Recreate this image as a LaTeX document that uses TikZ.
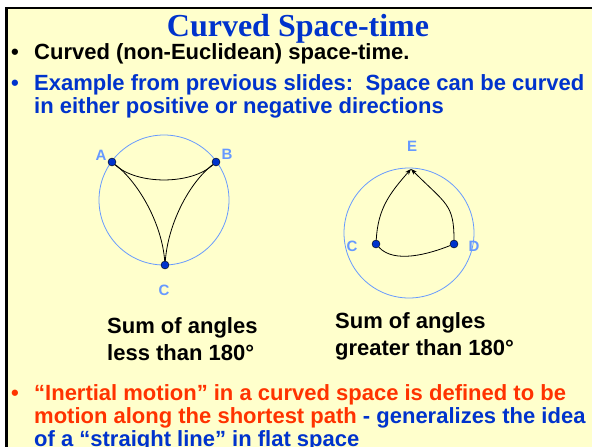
\documentclass[tikz,border=0pt]{standalone}
\usepackage{fontspec}
\setmainfont{Liberation Serif}
\newfontfamily\arialfont{Liberation Sans}
\usetikzlibrary{arrows.meta}
\definecolor{slidebg}{HTML}{FFFFCC}
\definecolor{titleblue}{HTML}{0033CC}
\definecolor{redtxt}{HTML}{FF3300}
\definecolor{ringblue}{HTML}{6699FF}
\definecolor{dotblue}{HTML}{0033CC}
\begin{document}
\begin{tikzpicture}[x=1pt, y=-1pt,
  dot/.style={circle, draw=black, fill=dotblue, inner sep=0pt, minimum size=8pt},
  lbl/.style={font=\arialfont\bfseries\fontsize{15}{17}\selectfont, text=ringblue},
  txt/.style={font=\arialfont\bfseries\fontsize{22}{26}\selectfont, anchor=base west, inner sep=0pt},
  geo/.style={black, line width=0.8pt},
  ring/.style={ringblue, line width=0.8pt}]
\useasboundingbox (0,0) rectangle (592,447);
\clip (0,0) rectangle (592,447);
% slide frame
\fill[white] (0,0) rectangle (592,447);
\fill[slidebg] (7,8) rectangle (600,460);
\draw[line width=2.5pt] (6.5,460) -- (6.5,8) -- (600,8);
% title and first bullets
\node[font=\bfseries\fontsize{32}{36}\selectfont, text=titleblue, anchor=base] (title) at (298,36) {Curved Space-time};
\node[txt] (dot1) at (11,59) {•};
\node[txt] (bul1) at (34,59) {Curved (non-Euclidean) space-time.};
\node[txt, text=titleblue] (dot2) at (11,90) {•};
\node[txt, text=titleblue] (bul2a) at (34,90) {Example from previous slides:\ \ Space can be curved};
\node[txt, text=titleblue] (bul2b) at (34,113) {in either positive or negative directions};
% negative curvature
\draw[ring] (164,200) circle[radius=65pt];
\node[dot] (A) at (112,162) {};
\node[dot] (B) at (216,162) {};
\node[dot] (C) at (165,265) {};
\node[lbl] (labA) at (101,155) {A};
\node[lbl] (labB) at (227,154) {B};
\node[lbl] (labC) at (164,290) {C};
\draw[geo] (A) .. controls +(25,23) and +(-25,23) .. (B);
\draw[geo] (A) .. controls +(28,22) and +(-3,-40) .. (C);
\draw[geo] (B) .. controls +(-28,22) and +(3,-40) .. (C);
% positive curvature
\draw[ring] (409,233) circle[radius=65pt];
\node[dot] (C2) at (376,244) {};
\node[dot] (D) at (454,244) {};
\coordinate (E) at (411,169);
\node[lbl] (labE) at (412,146) {E};
\node[lbl] (labC2) at (352,246) {C};
\node[lbl] (labD) at (474,246) {D};
\draw[geo, -{Stealth[length=6pt, width=4.5pt]}] (C2) .. controls +(2,-35) and +(-22,25) .. (E);
\draw[geo, -{Stealth[length=6pt, width=4.5pt]}] (D) .. controls +(0,-40) and +(35,35) .. (E);
\draw[geo] (C2) .. controls +(18,20) and +(-25,10) .. (D);
% captions
\node[txt] (sumLa) at (107,333) {Sum of angles};
\node[txt] (sumLb) at (107,360) {less than 180°};
\node[txt] (sumRa) at (335,328) {Sum of angles};
\node[txt] (sumRb) at (335,355) {greater than 180°};
% last bullet
\node[txt, text=redtxt] (dot3) at (11,400) {•};
\node[txt, text=redtxt] (bul3a) at (34,400) {“Inertial motion” in a curved space is defined to be};
\node[txt] (bul3b) at (34,423) {\textcolor{redtxt}{motion along the shortest path} \textcolor{titleblue}{- generalizes the idea}};
\node[txt, text=titleblue] (bul3c) at (34,446) {of a “straight line” in flat space};
\end{tikzpicture}
\end{document}
